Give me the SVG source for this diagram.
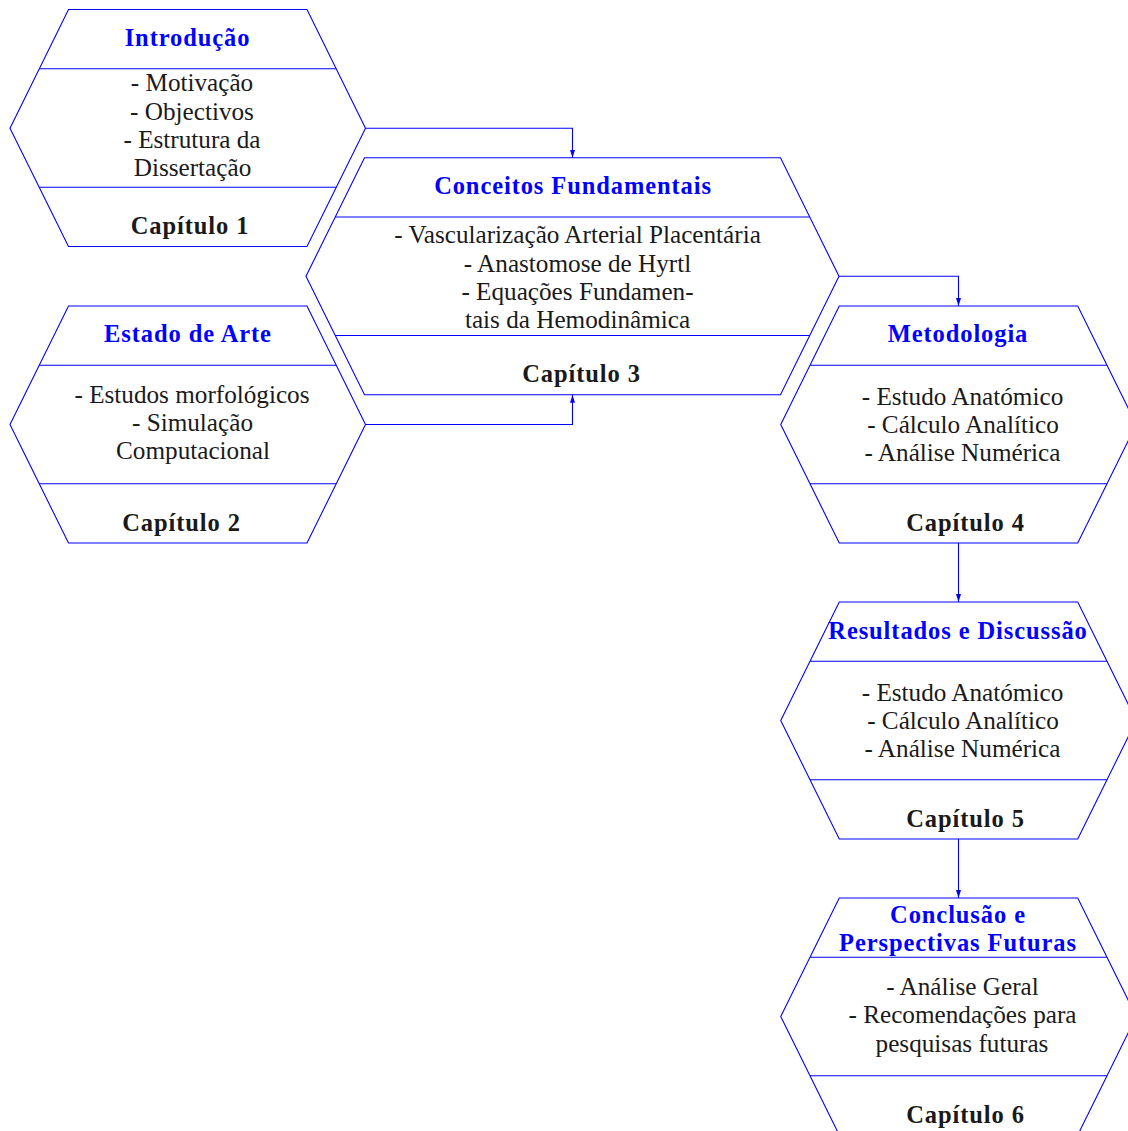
<svg xmlns="http://www.w3.org/2000/svg" width="1128" height="1131" viewBox="0 0 1128 1131">
<defs>
<style>
.hex{fill:none;stroke:#0000ff;stroke-width:1.1}
.sep{stroke:#0000ff;stroke-width:1.1}
.con{fill:none;stroke:#0000ff;stroke-width:1.1;marker-end:url(#arr)}
text{font-family:"Liberation Serif","Times New Roman",serif;font-size:24.5px;text-anchor:middle}
.t{font-weight:bold;fill:#0000ff;letter-spacing:0.9px}
.b{fill:#1a1a1a;font-size:25.2px}
.c{font-weight:bold;fill:#1a1a1a;letter-spacing:0.9px}
</style>
<marker id="arr" markerWidth="8" markerHeight="5" refX="8" refY="2.5" orient="auto" markerUnits="userSpaceOnUse">
<path d="M0,0 L8,2.5 L0,5 Z" fill="#0000ff"/>
</marker>
</defs>
<rect width="1128" height="1131" fill="#ffffff"/>

<g id="connectors">
<path class="con" d="M365.5,128.25 H572.5 V157.75"/>
<path class="con" d="M365.5,424.5 H572.5 V394.75"/>
<path class="con" d="M839,276.25 H958.5 V306"/>
<path class="con" d="M958.5,543 V602"/>
<path class="con" d="M958.5,839 V898"/>
</g>

<g id="cap1">
<polygon class="hex" points="10,128.25 68.5,9.5 307,9.5 365.5,128.25 307,246.5 68.5,246.5"/>
<line class="sep" x1="39.25" y1="68.75" x2="336.25" y2="68.75"/>
<line class="sep" x1="39.25" y1="187.25" x2="336.25" y2="187.25"/>
<text class="t" x="187.5" y="46">Introdução</text>
<text class="b" x="192" y="91">- Motivação</text>
<text class="b" x="192" y="119.5">- Objectivos</text>
<text class="b" x="192" y="147.5">- Estrutura da</text>
<text class="b" x="192.5" y="175.5">Dissertação</text>
<text class="c" x="190" y="233.5">Capítulo 1</text>
</g>

<g id="cap2">
<polygon class="hex" points="10,424.5 68.5,306 307,306 365.5,424.5 307,543 68.5,543"/>
<line class="sep" x1="39.25" y1="365.25" x2="336.25" y2="365.25"/>
<line class="sep" x1="39.25" y1="483.75" x2="336.25" y2="483.75"/>
<text class="t" x="188" y="342">Estado de Arte</text>
<text class="b" x="192" y="402.5">- Estudos morfológicos</text>
<text class="b" x="192.5" y="430.5">- Simulação</text>
<text class="b" x="193" y="458.5">Computacional</text>
<text class="c" x="181.5" y="530.5">Capítulo 2</text>
</g>

<g id="cap3">
<polygon class="hex" points="306,276.25 364.5,157.75 780.5,157.75 839,276.25 780.5,394.75 364.5,394.75"/>
<line class="sep" x1="335.25" y1="217" x2="809.75" y2="217"/>
<line class="sep" x1="335.25" y1="335.5" x2="809.75" y2="335.5"/>
<text class="t" x="573" y="194">Conceitos Fundamentais</text>
<text class="b" x="577.5" y="243.3">- Vascularização Arterial Placentária</text>
<text class="b" x="577.5" y="271.7">- Anastomose de Hyrtl</text>
<text class="b" x="577.5" y="300">- Equações Fundamen-</text>
<text class="b" x="577.5" y="328.3">tais da Hemodinâmica</text>
<text class="c" x="581.5" y="382">Capítulo 3</text>
</g>

<g id="cap4">
<polygon class="hex" points="780.75,424.5 839.25,306 1077.75,306 1136.25,424.5 1077.75,543 839.25,543"/>
<line class="sep" x1="810" y1="365.25" x2="1107" y2="365.25"/>
<line class="sep" x1="810" y1="483.75" x2="1107" y2="483.75"/>
<text class="t" x="958" y="342">Metodologia</text>
<text class="b" x="962.5" y="404.5">- Estudo Anatómico</text>
<text class="b" x="963" y="432.5">- Cálculo Analítico</text>
<text class="b" x="962.5" y="461">- Análise Numérica</text>
<text class="c" x="965.5" y="530.5">Capítulo 4</text>
</g>

<g id="cap5">
<polygon class="hex" points="780.75,720.5 839.25,602 1077.75,602 1136.25,720.5 1077.75,839 839.25,839"/>
<line class="sep" x1="810" y1="661.25" x2="1107" y2="661.25"/>
<line class="sep" x1="810" y1="779.75" x2="1107" y2="779.75"/>
<text class="t" x="958" y="639">Resultados e Discussão</text>
<text class="b" x="962.5" y="700.5">- Estudo Anatómico</text>
<text class="b" x="963" y="728.5">- Cálculo Analítico</text>
<text class="b" x="962.5" y="757">- Análise Numérica</text>
<text class="c" x="965.5" y="827">Capítulo 5</text>
</g>

<g id="cap6">
<polygon class="hex" points="780.75,1016.5 839.25,898 1077.75,898 1136.25,1016.5 1077.75,1135 839.25,1135"/>
<line class="sep" x1="810" y1="957.25" x2="1107" y2="957.25"/>
<line class="sep" x1="810" y1="1075.75" x2="1107" y2="1075.75"/>
<text class="t" x="958" y="923">Conclusão e</text>
<text class="t" x="958" y="951">Perspectivas Futuras</text>
<text class="b" x="962.5" y="994.5">- Análise Geral</text>
<text class="b" x="962.5" y="1023">- Recomendações para</text>
<text class="b" x="962" y="1051.5">pesquisas futuras</text>
<text class="c" x="965.5" y="1123">Capítulo 6</text>
</g>
</svg>
